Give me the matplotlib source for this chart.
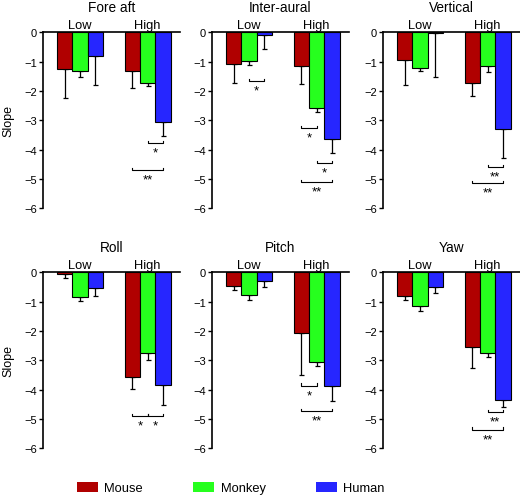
import numpy as np
import matplotlib.pyplot as plt
from matplotlib.patches import Patch

plt.rcParams['font.family'] = ['Liberation Sans', 'DejaVu Sans']

titles = ["Fore aft", "Inter-aural", "Vertical", "Roll", "Pitch", "Yaw"]
groups = ["Low", "High"]
species = ["Mouse", "Monkey", "Human"]
colors = ["#b00000", "#26ff1e", "#2626ff"]

# bar means per panel: [mouse, monkey, human]
low_mean = [[-1.25, -1.31, -0.80],
            [-1.08, -0.99, -0.08],
            [-0.95, -1.20, -0.03],
            [-0.06, -0.85, -0.55],
            [-0.48, -0.77, -0.28],
            [-0.82, -1.16, -0.49]]
high_mean = [[-1.31, -1.74, -3.07],
             [-1.16, -2.59, -3.63],
             [-1.74, -1.14, -3.28],
             [-3.58, -2.75, -3.84],
             [-2.08, -3.07, -3.89],
             [-2.56, -2.76, -4.34]]
# one-sided (downward) error lengths
low_err = [[0.99, 0.22, 0.98],
           [0.65, 0.11, 0.50],
           [0.85, 0.11, 1.51],
           [0.14, 0.12, 0.25],
           [0.12, 0.17, 0.23],
           [0.12, 0.15, 0.23]]
high_err = [[0.59, 0.10, 0.45],
            [0.59, 0.11, 0.47],
            [0.42, 0.23, 1.01],
            [0.40, 0.23, 0.68],
            [1.42, 0.11, 0.49],
            [0.71, 0.12, 0.26]]
# significance: (group, species a, species b, bracket y, label)
sig = [[(1, 1, 2, -3.77, "*"), (1, 0, 2, -4.68, "**")],
       [(0, 1, 2, -1.67, "*"), (1, 0, 1, -3.27, "*"), (1, 1, 2, -4.46, "*"), (1, 0, 2, -5.09, "**")],
       [(1, 1, 2, -4.59, "**"), (1, 0, 2, -5.15, "**")],
       [(1, 0, 1, -4.89, "*"), (1, 1, 2, -4.89, "*")],
       [(1, 0, 1, -3.86, "*"), (1, 0, 2, -4.72, "**")],
       [(1, 1, 2, -4.77, "**"), (1, 0, 2, -5.36, "**")]]

W, H = 520, 502
fig = plt.figure(figsize=(W / 100, H / 100), dpi=100)
lefts = [43, 212, 383]
tops = [33.3, 273.3]
ax_w = 137
ax_h = 176
bw = 0.227
offs = np.array([-bw, 0, bw])
gx = np.arange(len(groups))

for p, title in enumerate(titles):
    r, c = divmod(p, 3)
    ax = fig.add_axes([lefts[c] / W, 1 - (tops[r] + ax_h) / H, ax_w / W, ax_h / H])
    for k in range(3):
        xs = gx + offs[k]
        ys = [low_mean[p][k], high_mean[p][k]]
        es = [low_err[p][k], high_err[p][k]]
        ax.bar(xs, ys, bw, color=colors[k], edgecolor="black", linewidth=0.8, zorder=2)
        ax.errorbar(xs, ys, yerr=[es, [0, 0]], fmt="none", ecolor="black",
                    elinewidth=0.9, capsize=1.8, capthick=0.9, zorder=1)
    for g, a, b, y, lab in sig[p]:
        xa, xb = g + offs[a], g + offs[b]
        ax.plot([xa, xa, xb, xb], [y + 0.07, y, y, y + 0.07], color="black", lw=0.8)
        ax.text((xa + xb) / 2, y - 0.12, lab, ha="center", va="top", fontsize=9.5)
    ax.set_xlim(-0.548, 1.48)
    ax.set_ylim(-6, 0)
    ax.set_xticks([])
    ax.set_yticks(range(-6, 1))
    ax.tick_params(axis="y", length=3, width=1, labelsize=8, pad=1.5)
    for s in ["right", "bottom"]:
        ax.spines[s].set_visible(False)
    ax.spines["top"].set_linewidth(1.2)
    ax.spines["left"].set_linewidth(1.2)
    for g, name in zip(gx, groups):
        ax.text(g, 0.13, name, ha="center", va="baseline", fontsize=9.3, clip_on=False)
    ax.text(np.mean(ax.get_xlim()), 0.72, title, ha="center", va="baseline",
            fontsize=9.8, clip_on=False)
    if c == 0:
        ax.set_ylabel("Slope", fontsize=9, labelpad=7)

handles = [Patch(facecolor=col, edgecolor="none", label=s) for col, s in zip(colors, species)]
fig.legend(handles=handles, loc="center", bbox_to_anchor=(0.444, 0.026), ncol=3,
           frameon=False, fontsize=9.3, handlelength=1.6, handleheight=0.9,
           columnspacing=3.9, handletextpad=0.5)

fig.savefig("out.png", dpi=100)
